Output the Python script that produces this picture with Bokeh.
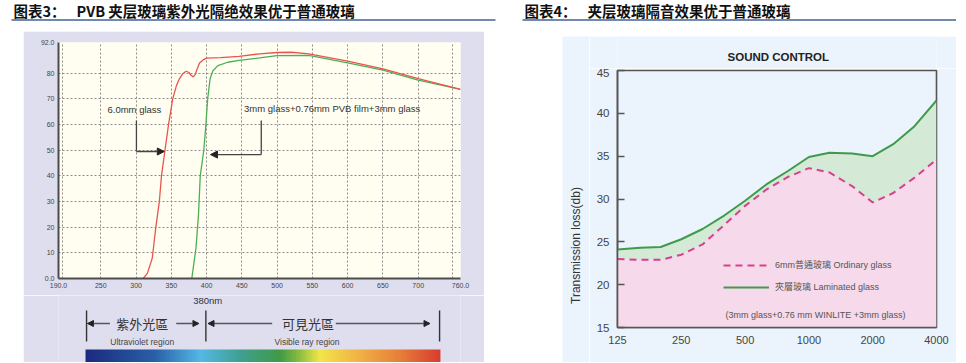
import numpy as np
from bokeh.plotting import figure
from bokeh.layouts import column, row
from bokeh.models import (Range1d, FixedTicker, Label, Arrow, NormalHead, Spacer,
                          Legend, LegendItem, NumeralTickFormatter, BoxAnnotation)
from bokeh.embed import file_html
from bokeh.resources import INLINE

# ---------------- data : left chart (transmittance %, wavelength nm) ----------------
uv_wl_glass = [310, 316, 323, 328, 333, 336, 341, 346, 352, 357, 361, 366, 371, 375, 378,
               381, 384, 387, 390, 395, 400, 420, 446, 475, 500, 520, 545, 600, 650, 700, 760]
uv_t_glass = [0, 2, 8, 20, 30, 40, 50, 60, 70, 75, 77.6, 79.8, 80.8, 80.3, 79.2,
              78.6, 79.6, 82.0, 84.0, 85.2, 85.9, 86.1, 86.6, 87.6, 88.1, 88.2, 87.6, 84.7, 81.7, 77.9, 73.7]
uv_wl_lam = [379, 382, 385, 388.5, 391, 396, 399, 401.5, 405, 409, 416, 430, 446, 475, 500,
             545, 600, 650, 700, 760]
uv_t_lam = [0, 6, 12, 25, 40, 50, 60, 70, 78, 81, 83, 84.3, 85, 86, 86.9,
            87, 84.1, 81.2, 77.3, 73.7]
uv_x_ticks = [190, 250, 300, 350, 400, 450, 500, 550, 600, 650, 700, 760]
uv_x_labels = {190: "190.0", 760: "760.0"}
uv_y_ticks = [0, 10, 20, 30, 40, 50, 60, 70, 80, 92]
uv_y_labels = {0: "0.0", 92: "92.0"}
uv_xgrid = [196, 250, 300, 350, 400, 450, 500, 550, 600, 650, 700, 748]
uv_ygrid = [10, 20, 30, 40, 50, 60, 70, 80, 92]

# ---------------- data : right chart (transmission loss dB vs frequency Hz) ----------------
freq = [125, 160, 200, 250, 315, 400, 500, 630, 800, 1000, 1250, 1600, 2000, 2500, 3150, 4000]
tl_ordinary = [23.0, 22.9, 22.9, 23.5, 24.7, 27.0, 29.2, 31.1, 32.6, 33.6, 33.1, 31.5, 29.6, 30.7, 32.5, 34.6]
tl_laminated = [24.1, 24.3, 24.4, 25.3, 26.5, 28.1, 29.8, 31.7, 33.3, 34.9, 35.4, 35.3, 35.0, 36.4, 38.5, 41.5]
freq_ticks = [125, 250, 500, 1000, 2000, 4000]
tl_ticks = [15, 20, 25, 30, 35, 40, 45]

# ---------------- styles ----------------
SANS = "Liberation Sans"
CJK_SC = "Noto Sans CJK SC"
CJK_TC = "Noto Sans CJK TC"
LAV = "#DFDEEF"
CREAM = "#FFFEF0"
BLUE_BG = "#EBF4FC"
PINK_FILL = "#F6D9EA"
GREEN_FILL = "#D5EAD6"
PINK = "#D8408E"
GREEN = "#3E9B4C"
RED = "#E85550"
LGREEN = "#4DAF55"
RULE = "#7089AD"


def blank(width, height, xr, yr, bg):
    f = figure(width=width, height=height, x_range=xr, y_range=yr,
               output_backend="svg", toolbar_location=None, min_border=0,
               x_axis_location=None, y_axis_location=None)
    f.grid.visible = False
    f.outline_line_color = None
    f.background_fill_color = bg
    f.border_fill_color = bg
    return f


# ---------------- title strip ----------------
pT = blank(956, 31, Range1d(0, 956), Range1d(31, 0), "white")
for x0, txt in [(13, "图表3："), (76, "PVB 夹层玻璃紫外光隔绝效果优于普通玻璃"),
                (524, "图表4："), (587, "夹层玻璃隔音效果优于普通玻璃")]:
    pT.add_layout(Label(x=x0, y=9.5, text=txt, text_baseline="middle", text_align="left",
                        text_font=CJK_SC, text_font_style="bold", text_font_size="14.5px",
                        text_color="#111111"))
for l, r in [(11, 495), (522, 956)]:
    pT.add_layout(BoxAnnotation(left=l, right=r, top=18.5, bottom=20.5, fill_color=RULE,
                                fill_alpha=1, line_color=None))

# ---------------- left chart ----------------
BL, BR = 35, 24
pL = figure(width=461, height=264, x_range=Range1d(190, 760), y_range=Range1d(0, 92),
            output_backend="svg", toolbar_location=None,
            min_border_left=BL, min_border_right=BR, min_border_top=11, min_border_bottom=17)
pL.background_fill_color = CREAM
pL.border_fill_color = LAV
pL.outline_line_color = None
pL.xaxis.ticker = FixedTicker(ticks=uv_x_ticks)
pL.xaxis.major_label_overrides = uv_x_labels
pL.yaxis.ticker = FixedTicker(ticks=uv_y_ticks)
pL.yaxis.major_label_overrides = uv_y_labels
for ax in (pL.xaxis[0], pL.yaxis[0]):
    ax.axis_line_color = "#4d4d4d"
    ax.axis_line_width = 2
    ax.major_tick_in = 0
    ax.major_tick_out = 0
    ax.minor_tick_line_color = None
    ax.major_label_text_font = SANS
    ax.major_label_text_font_size = "7px"
    ax.major_label_text_color = "#444444"
    ax.major_label_standoff = 4
pL.xgrid.ticker = FixedTicker(ticks=uv_xgrid)
pL.ygrid.ticker = FixedTicker(ticks=uv_ygrid)
for g in (pL.xgrid[0], pL.ygrid[0]):
    g.grid_line_color = "#8c8c8c"
    g.grid_line_dash = "2 2"
    g.grid_line_width = 1
pL.line(uv_wl_lam, uv_t_lam, line_color=LGREEN, line_width=1.3)
pL.line(uv_wl_glass, uv_t_glass, line_color=RED, line_width=1.3)

pL.add_layout(Label(x=297.6, y=65.9, text="6.0mm glass", text_align="center", text_baseline="middle",
                    text_font=SANS, text_font_size="9.5px", text_color="#333333"))
pL.add_layout(Label(x=453, y=66.3, text="3mm glass+0.76mm PVB film+3mm glass", text_align="left",
                    text_baseline="middle", text_font=SANS, text_font_size="9.5px", text_color="#333333"))
pL.add_layout(Arrow(x_start=300.5, y_start=61.6, x_end=300.5, y_end=49.5, end=None,
                    line_color="#444444", line_width=1.3))
pL.add_layout(Arrow(x_start=300.5, y_start=49.5, x_end=340, y_end=49.5,
                    end=NormalHead(size=7, fill_color="#222222", line_color="#222222"),
                    line_color="#444444", line_width=1.3))
pL.add_layout(Arrow(x_start=477.5, y_start=61.6, x_end=477.5, y_end=48.3, end=None,
                    line_color="#444444", line_width=1.3))
pL.add_layout(Arrow(x_start=477.5, y_start=48.3, x_end=405.5, y_end=48.3,
                    end=NormalHead(size=7, fill_color="#222222", line_color="#222222"),
                    line_color="#444444", line_width=1.3))

# ---------------- left bottom strip (regions + spectrum) ----------------
kx = 570.0 / (461 - BL - BR)
pB = blank(461, 67, Range1d(190 - BL * kx, 760 + BR * kx), Range1d(0, 67), LAV)

stop_pos = [0.0, 0.192, 0.324, 0.437, 0.545, 0.602, 0.658, 0.767, 0.889, 1.0]
stop_col = ["#1c2b7f", "#2a5fa8", "#55b9e6", "#3fa090", "#3f9a48", "#8cbf3f",
            "#f3e64a", "#f1b346", "#e67d38", "#d93b30"]
N = 420
tpos = np.linspace(0, 1, N)
rgb = np.array([[int(c[i:i + 2], 16) for i in (1, 3, 5)] for c in stop_col], dtype=float)
img = np.zeros((1, N), dtype=np.uint32)
view = img.view(dtype=np.uint8).reshape((1, N, 4))
for ch in range(3):
    view[0, :, ch] = np.interp(tpos, stop_pos, rgb[:, ch]).astype(np.uint8)
view[0, :, 3] = 255
pB.image_rgba(image=[img], x=184.3, y=0, dw=577.1, dh=13)

for xm in (186, 380, 760):
    pB.add_layout(Arrow(x_start=xm, y_start=21, x_end=xm, y_end=52, end=None,
                        line_color="#333333", line_width=1.4))
head = dict(size=6, fill_color="#222222", line_color="#222222")
for xs, xe in [(224, 187.5), (331.8, 368.7), (487.8, 383.5), (591.3, 744.4)]:
    pB.add_layout(Arrow(x_start=xs, y_start=39, x_end=xe, y_end=39, end=NormalHead(**head),
                        line_color="#555555", line_width=1.3))
pB.add_layout(Label(x=383, y=62, text="380nm", text_align="center", text_baseline="middle",
                    text_font=SANS, text_font_size="9.5px", text_color="#333333"))
pB.add_layout(Label(x=276.5, y=39, text="紫外光區", text_align="center", text_baseline="middle",
                    text_font=CJK_TC, text_font_size="13px", text_color="#333333"))
pB.add_layout(Label(x=545.9, y=39, text="可見光區", text_align="center", text_baseline="middle",
                    text_font=CJK_TC, text_font_size="13px", text_color="#333333"))
pB.add_layout(Label(x=276.5, y=21, text="Ultraviolet region", text_align="center", text_baseline="middle",
                    text_font=SANS, text_font_size="8.5px", text_color="#444444"))
pB.add_layout(Label(x=544.5, y=21, text="Visible ray region", text_align="center", text_baseline="middle",
                    text_font=SANS, text_font_size="8.5px", text_color="#444444"))

# ---------------- right chart ----------------
pRy = blank(27, 326, Range1d(0, 27), Range1d(0, 326), BLUE_BG)
pRy.add_layout(Label(x=13, y=117, text="Transmission loss(db)", angle=np.pi / 2, text_align="center",
                     text_baseline="middle", text_font=SANS, text_font_size="12px", text_color="#333333"))
pRt = blank(367, 32, Range1d(0, 367), Range1d(0, 32), BLUE_BG)
pRt.add_layout(Label(x=185, y=12, text="SOUND CONTROL", text_align="center", text_baseline="middle",
                     text_font=SANS, text_font_style="bold", text_font_size="11.5px", text_color="#222222"))

pR = figure(width=367, height=294, x_axis_type="log", x_range=Range1d(125, 4000), y_range=Range1d(15, 45),
            output_backend="svg", toolbar_location=None,
            min_border_left=28, min_border_right=20, min_border_top=2, min_border_bottom=35)
pR.background_fill_color = BLUE_BG
pR.border_fill_color = BLUE_BG
pR.outline_line_color = "#555555"
pR.outline_line_width = 1.6
pR.grid.visible = False
pR.varea(x=freq, y1=15, y2=tl_ordinary, fill_color=PINK_FILL)
pR.varea(x=freq, y1=tl_ordinary, y2=tl_laminated, fill_color=GREEN_FILL)
r_ord = pR.line(freq, tl_ordinary, line_color=PINK, line_width=2, line_dash="7 5")
r_lam = pR.line(freq, tl_laminated, line_color=GREEN, line_width=2)

pR.xaxis.ticker = FixedTicker(ticks=freq_ticks)
pR.xaxis.formatter = NumeralTickFormatter(format="0")
pR.yaxis.ticker = FixedTicker(ticks=tl_ticks)
for ax in (pR.xaxis[0], pR.yaxis[0]):
    ax.axis_line_color = "#555555"
    ax.axis_line_width = 1.6
    ax.major_tick_out = 0
    ax.minor_tick_line_color = None
    ax.major_label_text_font = SANS
    ax.major_label_text_color = "#444444"
    ax.major_label_standoff = 8
pR.xaxis.major_tick_in = 0
pR.xaxis.major_label_text_font_size = "11px"
pR.yaxis.major_tick_in = 7
pR.yaxis.major_tick_line_color = "#555555"
pR.yaxis.major_tick_line_width = 1.5
pR.yaxis.major_label_text_font_size = "11.5px"

pR.add_layout(Label(x=404, y=16.5, text="(3mm glass+0.76 mm WINLITE  +3mm glass)", text_align="left",
                    text_baseline="middle", text_font=SANS, text_font_size="9px", text_color="#555555"))
leg = Legend(items=[LegendItem(label="6mm普通玻璃 Ordinary glass", renderers=[r_ord]),
                    LegendItem(label="夾層玻璃 Laminated glass", renderers=[r_lam])],
             location=(106, 34), padding=0, margin=0, border_line_color=None, background_fill_alpha=0,
             glyph_width=46, glyph_height=12, label_height=12, label_standoff=6, spacing=9,
             label_text_font="Liberation Sans, Noto Sans CJK TC", label_text_font_size="9px",
             label_text_color="#555555")
pR.add_layout(leg)

layout = column(
    pT,
    row(Spacer(width=23, height=331), column(pL, pB), Spacer(width=78, height=331),
        column(Spacer(width=394, height=5), row(pRy, column(pRt, pR)))),
)

open("out.html", "w").write(file_html(layout, INLINE))
